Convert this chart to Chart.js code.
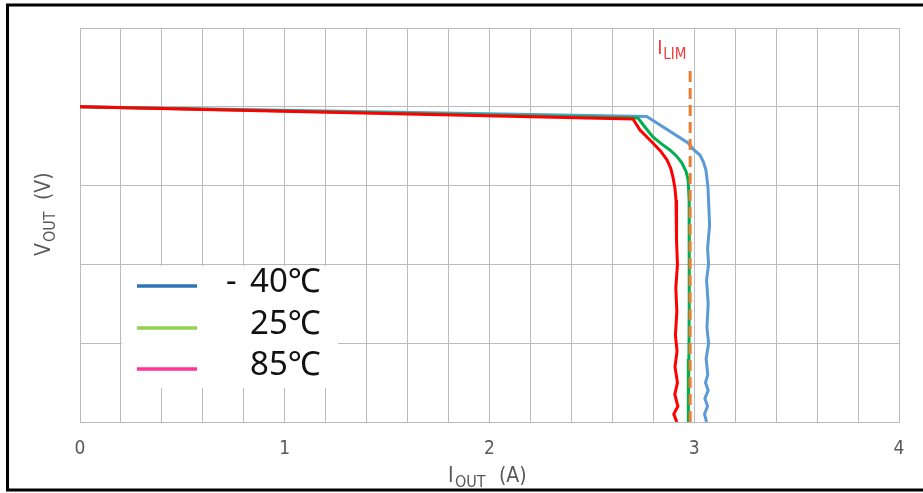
<!DOCTYPE html>
<html lang="en">
<head>
  <meta charset="UTF-8">
  <title>VOUT vs IOUT</title>
  <script src="https://cdn.jsdelivr.net/npm/chart.js"></script>
  <style>
    /* Page fills the 923x493 window */
    body {
      margin: 0;
      background-color: #ffffff;
    }

    .chart-container {
      position: relative;
      width: 923px;
      height: 493px;
    }
  </style>
</head>
<body>
  <div class="chart-container">
    <canvas id="vioChart"></canvas>
  </div>

  <script>
    // Curve data (IOUT in A, VOUT in grid units)
    const labels = ['- 40℃', '25℃', '85℃'];
    const xTicks = [0, 1, 2, 3, 4];

    const coldI = [0, 2.768, 2.970, 3.000, 3.028, 3.045, 3.057, 3.067, 3.070, 3.075, 3.065, 3.070, 3.060, 3.068, 3.062, 3.070, 3.058, 3.066, 3.055, 3.068, 3.052, 3.065, 3.050, 3.060];
    const coldV = [4.0, 3.878, 3.541, 3.450, 3.388, 3.300, 3.198, 2.982, 2.8, 2.5, 2.2, 2.0, 1.8, 1.5, 1.2, 1.0, 0.8, 0.6, 0.5, 0.4, 0.3, 0.2, 0.1, 0.0];

    const roomI = [0, 2.725, 2.760, 2.798, 2.840, 2.881, 2.915, 2.940, 2.960, 2.970, 2.975, 2.976, 2.975, 2.974, 2.972, 2.970];
    const roomV = [4.0, 3.858, 3.740, 3.617, 3.530, 3.452, 3.370, 3.287, 3.180, 3.071, 2.817, 2.2, 1.5, 0.8, 0.3, 0.0];

    const hotI = [0, 2.701, 2.735, 2.798, 2.835, 2.867, 2.885, 2.896, 2.906, 2.911, 2.915, 2.912, 2.918, 2.910, 2.915, 2.908, 2.916, 2.906, 2.918, 2.905, 2.920, 2.900, 2.915];
    const hotV = [4.0, 3.845, 3.706, 3.541, 3.440, 3.325, 3.220, 3.109, 2.960, 2.817, 2.6, 2.3, 2.0, 1.7, 1.4, 1.1, 0.9, 0.7, 0.5, 0.35, 0.2, 0.1, 0.0];

    const iLim = 2.98;
    const iLimTop = 4.47;

    function toPoints(xs, ys) {
      return xs.map((x, i) => ({ x: x, y: ys[i] }));
    }

    // Legend, axis titles with subscripts, ILIM label and outer frame
    const decorations = {
      id: 'decorations',
      afterDraw(chart) {
        const ctx = chart.ctx;
        const xs = chart.scales.x;
        const font = "'Liberation Sans Narrow', 'DejaVu Sans Condensed', 'Open Sans', sans-serif";
        ctx.save();

        // legend box
        ctx.fillStyle = '#ffffff';
        ctx.fillRect(122, 266, 216, 122);
        const legendColors = ['#2E75B6', '#92D050', '#FF3399'];
        const legendY = [286, 328, 369];
        ctx.lineWidth = 3.5;
        legendColors.forEach((c, i) => {
          ctx.strokeStyle = c;
          ctx.beginPath();
          ctx.moveTo(137, legendY[i]);
          ctx.lineTo(197, legendY[i]);
          ctx.stroke();
        });
        ctx.fillStyle = '#111111';
        ctx.font = "33px 'Noto Sans', 'Noto Sans CJK JP', sans-serif";
        ctx.textBaseline = 'middle';
        ctx.textAlign = 'left';
        ctx.fillText('-', 226, legendY[0] - 3);
        ctx.fillText('40℃', 250, legendY[0] - 3);
        ctx.fillText(labels[1], 250, legendY[1] - 3);
        ctx.fillText(labels[2], 250, legendY[2] - 3);

        // ILIM label
        const lx = xs.getPixelForValue(iLim);
        ctx.fillStyle = '#F23A3A';
        ctx.textBaseline = 'alphabetic';
        ctx.font = "20px " + font;
        ctx.fillText('I', lx - 33, 54);
        ctx.font = "15px " + font;
        ctx.fillText('LIM', lx - 27, 59);

        // x title: IOUT (A)
        ctx.fillStyle = '#595959';
        ctx.font = "21px " + font;
        ctx.fillText('I', 448, 482);
        ctx.font = "16px " + font;
        ctx.fillText('OUT', 455, 487);
        ctx.font = "21px " + font;
        ctx.fillText('(A)', 499, 482);

        // y title: VOUT (V), rotated
        ctx.translate(50, 212);
        ctx.rotate(-Math.PI / 2);
        ctx.textAlign = 'left';
        ctx.font = "21px " + font;
        ctx.fillText('V', -44, 0);
        ctx.font = "16px " + font;
        ctx.fillText('OUT', -30, 5);
        ctx.font = "21px " + font;
        ctx.fillText('(V)', 12, 0);
        ctx.setTransform(1, 0, 0, 1, 0, 0);

        // outer frame
        ctx.strokeStyle = '#000000';
        ctx.lineWidth = 3;
        ctx.beginPath();
        ctx.moveTo(930, 5);
        ctx.lineTo(7.5, 5);
        ctx.lineTo(7.5, 490);
        ctx.lineTo(930, 490);
        ctx.stroke();
        ctx.restore();
      }
    };

    const ctx = document.getElementById('vioChart').getContext('2d');
    new Chart(ctx, {
      type: 'scatter',
      data: {
        datasets: [
          {
            label: 'ILIM',
            data: [{ x: iLim, y: 0 }, { x: iLim, y: iLimTop }],
            showLine: true,
            borderColor: '#ED7D31',
            borderWidth: 3,
            borderDash: [11, 6],
            pointRadius: 0,
            order: 0
          },
          {
            label: labels[2],
            data: toPoints(hotI, hotV),
            showLine: true,
            borderColor: '#FF0000',
            borderWidth: 3,
            pointRadius: 0,
            tension: 0,
            order: 1
          },
          {
            label: labels[1],
            data: toPoints(roomI, roomV),
            showLine: true,
            borderColor: '#00B050',
            borderWidth: 3,
            pointRadius: 0,
            tension: 0,
            order: 2
          },
          {
            label: labels[0],
            data: toPoints(coldI, coldV),
            showLine: true,
            borderColor: '#5B9BD5',
            borderWidth: 3,
            pointRadius: 0,
            tension: 0,
            order: 3
          }
        ]
      },
      options: {
        responsive: true,
        maintainAspectRatio: false,
        animation: false,
        layout: {
          padding: { left: 80, right: 24, top: 28, bottom: 0 }
        },
        plugins: {
          legend: { display: false },
          tooltip: { enabled: false }
        },
        scales: {
          x: {
            type: 'linear',
            min: 0,
            max: 4,
            afterFit(scale) { scale.height = 71; },
            afterBuildTicks(scale) {
              const t = [];
              for (let i = 0; i <= 20; i++) t.push({ value: i / 5 });
              scale.ticks = t;
            },
            grid: { color: '#BBBBBB', lineWidth: 1, drawTicks: false },
            border: { color: '#BBBBBB' },
            ticks: {
              autoSkip: false,
              maxRotation: 0,
              padding: 16,
              color: '#595959',
              font: { family: "'Liberation Sans Narrow', 'DejaVu Sans Condensed', 'Open Sans', sans-serif", size: 19 },
              callback: (v) => xTicks.includes(Math.round(v * 1000) / 1000) ? String(Math.round(v)) : ''
            }
          },
          y: {
            type: 'linear',
            min: 0,
            max: 5,
            afterFit(scale) { scale.width = 0; },
            grid: { color: '#BBBBBB', lineWidth: 1, drawTicks: false },
            border: { color: '#BBBBBB' },
            ticks: { display: false, stepSize: 1 }
          }
        }
      },
      plugins: [decorations]
    });
  </script>
</body>
</html>
